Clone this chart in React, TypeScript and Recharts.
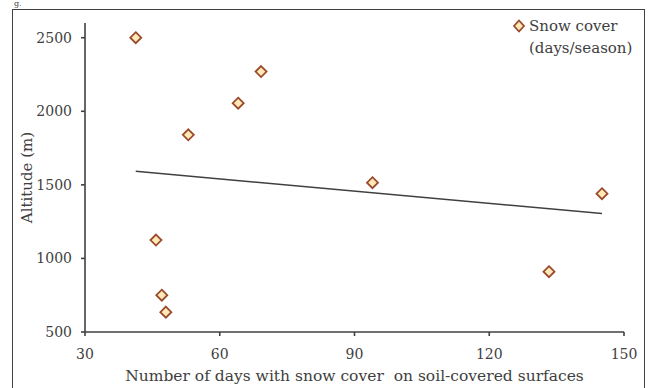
import React from "react";
import {
  ScatterChart, Scatter, XAxis, YAxis, ReferenceLine, Label,
} from "recharts";

// days with snow cover vs altitude
const DAYS = [41.3, 69.2, 64.1, 53.0, 94.0, 45.8, 47.1, 48.0, 133.3, 145.1];
const ALTITUDE = [2500, 2270, 2055, 1840, 1515, 1125, 750, 635, 910, 1440];

// linear trend line end points (as drawn)
const TREND_DAYS = [41.3, 145.1];
const TREND_ALT = [1592, 1305];

const X_TICKS = [30, 60, 90, 120, 150];
const Y_TICKS = [500, 1000, 1500, 2000, 2500];

const FONT = "'DejaVu Serif', 'Liberation Serif', serif";
const INK = "#404040";
const MARK_FILL = "#FFEAB5";
const MARK_STROKE = "#9A4A2E";

const points = DAYS.map((d, i) => ({ days: d, alt: ALTITUDE[i] }));

const Diamond = (props: any) => {
  const { cx, cy } = props;
  if (cx == null || cy == null) return null;
  const r = 5.5;
  return (
    <polygon
      points={`${cx},${cy - r} ${cx + r},${cy} ${cx},${cy + r} ${cx - r},${cy}`}
      fill={MARK_FILL} stroke={MARK_STROKE} strokeWidth={1.8}
    />
  );
};

// legend drawn by hand so it doesn't eat into the plot area
const LegendBox = () => (
  <div style={{
    position: "absolute", left: 512, top: 15, fontFamily: FONT, fontSize: 15,
    color: INK, lineHeight: "22px", display: "flex",
  }}>
    <svg width={14} height={22} style={{ marginRight: 3 }}>
      <polygon points="7,5.5 12,11 7,16.5 2,11" fill={MARK_FILL} stroke={MARK_STROKE} strokeWidth={1.8} />
    </svg>
    <div>
      <div>Snow cover</div>
      <div>(days/season)</div>
    </div>
  </div>
);

export default function App() {
  return (
    <div style={{ position: "absolute", left: 0, top: 0, width: 648, height: 388, background: "#fff", overflow: "hidden" }}>
      <div style={{ position: "absolute", left: 14, top: 0, fontFamily: FONT, fontSize: 8, lineHeight: "8px", color: INK }}>g.</div>
      <div style={{ position: "absolute", left: 12, top: 9, width: 631, height: 400, border: `1.6px solid ${INK}` }} />
      <ScatterChart width={648} height={388} margin={{ top: 23, right: 24, bottom: 0, left: 25 }}>
        <XAxis
          type="number" dataKey="days" domain={[30, 150]} ticks={X_TICKS} height={56}
          stroke={INK} strokeWidth={1.6} tickSize={4} tickMargin={13}
          tick={{ fontFamily: FONT, fontSize: 14, fill: INK }}
        >
          <Label
            content={(p: any) => {
              const vb = p.viewBox;
              return (
                <text x={vb.x + vb.width / 2} y={vb.y + 49} textAnchor="middle"
                  fontFamily={FONT} fontSize={15.5} fill={INK} style={{ whiteSpace: "pre" }}>
                  Number of days with snow cover  on soil-covered surfaces
                </text>
              );
            }}
          />
        </XAxis>
        <YAxis
          type="number" dataKey="alt" domain={[500, 2600]} ticks={Y_TICKS} width={60}
          stroke={INK} strokeWidth={1.6} tickSize={4} tickMargin={9}
          tick={{ fontFamily: FONT, fontSize: 14, fill: INK }}
        >
          <Label
            content={(p: any) => {
              const vb = p.viewBox;
              const cx = vb.x + 2;
              const cy = vb.y + vb.height / 2;
              return (
                <text x={cx} y={cy} transform={`rotate(-90 ${cx} ${cy})`} textAnchor="middle"
                  dominantBaseline="central" fontFamily={FONT} fontSize={15} fill={INK}>
                  Altitude (m)
                </text>
              );
            }}
          />
        </YAxis>
        <ReferenceLine
          segment={[{ x: TREND_DAYS[0], y: TREND_ALT[0] }, { x: TREND_DAYS[1], y: TREND_ALT[1] }]}
          stroke={INK} strokeWidth={1.5}
        />
        <Scatter name="Snow cover (days/season)" data={points} shape={Diamond} isAnimationActive={false} />
      </ScatterChart>
      <LegendBox />
    </div>
  );
}
